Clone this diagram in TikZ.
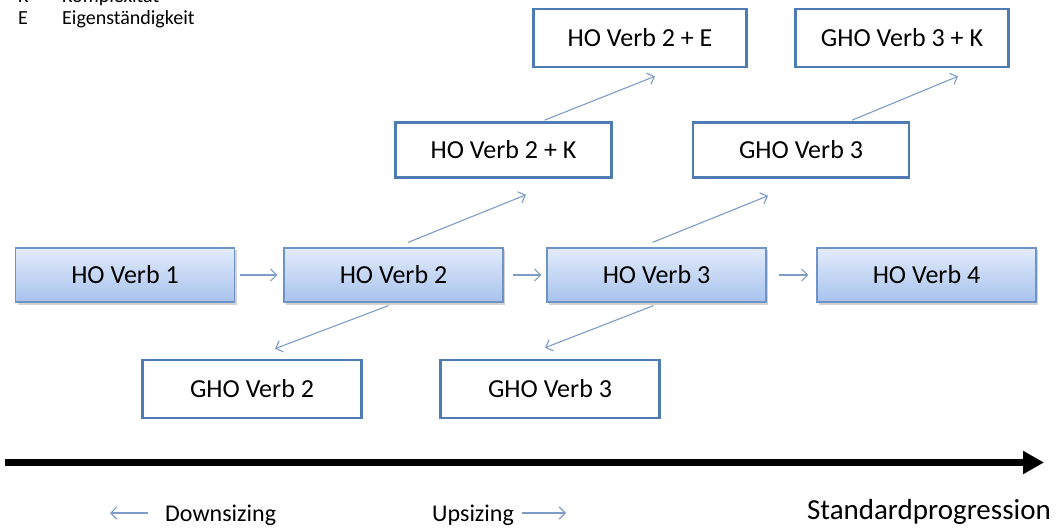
\documentclass[tikz,border=0pt]{standalone}
\usepackage{fontspec}
\setmainfont{Carlito}
\usetikzlibrary{arrows.meta,shadows,calc}
\definecolor{boxline}{HTML}{4F7BB5}
\definecolor{hoborder}{HTML}{6F93C6}
\definecolor{hotop}{HTML}{E2EBFA}
\definecolor{hobot}{HTML}{A8C3EE}
\definecolor{conncol}{HTML}{7F9CC6}
\tikzset{
  hobox/.style={draw=hoborder, line width=1.2pt, top color=hotop, bottom color=hobot,
    minimum width=219pt, minimum height=54pt, inner sep=0pt,
    drop shadow={opacity=0.35, shadow xshift=2pt, shadow yshift=-2.5pt},
    font=\fontsize{26}{30}\selectfont},
  wbox/.style={draw=boxline, line width=2.6pt, fill=white,
    minimum width=216pt, minimum height=55pt, inner sep=0pt,
    font=\fontsize{26}{30}\selectfont},
  conn/.style={draw=conncol, line width=1.1pt, -{Straight Barb[length=6pt,width=12pt]}},
  legend/.style={font=\fontsize{20}{22}\selectfont, anchor=base west, inner sep=0pt},
  caption/.style={font=\fontsize{24}{28}\selectfont, anchor=base west, inner sep=0pt}
}
\begin{document}
\begin{tikzpicture}[x=1pt,y=-1pt]
\useasboundingbox (0,0) rectangle (1057,529);
\fill[white] (0,0) rectangle (1057,529);
% legend
\node[legend] (lk) at (18,3) {K};
\node[legend] (lkt) at (62,3) {Komplexität};
\node[legend] (le) at (18,25) {E};
\node[legend] (let) at (62,25) {Eigenständigkeit};
% main row
\node[hobox] (ho1) at (125,275) {HO Verb 1};
\node[hobox] (ho2) at (393.5,275) {HO Verb 2};
\node[hobox] (ho3) at (656.5,275) {HO Verb 3};
\node[hobox] (ho4) at (926.5,275) {HO Verb 4};
% upper
\node[wbox] (ho2k) at (503.5,150) {HO Verb 2 + K};
\node[wbox] (gho3u) at (801,150) {GHO Verb 3};
\node[wbox, minimum height=58pt, minimum width=213pt] (ho2e) at (640,38) {HO Verb 2 + E};
\node[wbox, minimum height=58pt, minimum width=213pt] (gho3k) at (902,38) {GHO Verb 3 + K};
% lower
\node[wbox, minimum height=58pt, minimum width=219pt] (gho2) at (252,389) {GHO Verb 2};
\node[wbox, minimum height=58pt, minimum width=219pt] (gho3l) at (550,389) {GHO Verb 3};
% horizontal connectors
\draw[conn] ([xshift=5pt]ho1.east) -- ([xshift=-6pt]ho2.west);
\draw[conn] ([xshift=9pt]ho2.east) -- ([xshift=-5pt]ho3.west);
\draw[conn] ([xshift=12pt]ho3.east) -- ([xshift=-8pt]ho4.west);
% upsizing
\draw[conn] ($(ho2.north)+(14.5,-5)$) -- ($(ho2k.south)+(22.5,16)$);
\draw[conn] ($(ho2k.north)+(41,-1)$) -- ($(ho2e.south)+(15,8)$);
\draw[conn] ($(ho3.north)+(-4,-5)$) -- ($(gho3u.south)+(-33,17)$);
\draw[conn] ($(gho3u.north)+(51,-1)$) -- ($(gho3k.south)+(56,8)$);
% downsizing
\draw[conn] ($(ho2.south)+(-5,3)$) -- ($(gho2.north)+(23,-10)$);
\draw[conn] ($(ho3.south)+(-3,3)$) -- ($(gho3l.north)+(-5,-11)$);
% progression axis
\coordinate (axs) at (5,462.5);
\coordinate (axe) at (1044,462.5);
\draw[line width=7.5pt, -{Triangle[length=21pt,width=22pt]}] (axs) -- (axe);
% bottom legend
\coordinate (dl1) at (148,513);
\coordinate (dl2) at (110,513);
\draw[conn] (dl1) -- (dl2);
\node[caption] (down) at (165,521) {Downsizing};
\node[caption] (up) at (432,521) {Upsizing};
\coordinate (ul1) at (522,513);
\coordinate (ul2) at (566,513);
\draw[conn] (ul1) -- (ul2);
\node[font=\fontsize{29}{32}\selectfont, anchor=base east, inner sep=0pt] (std) at (1051,519) {Standardprogression};
\end{tikzpicture}
\end{document}
